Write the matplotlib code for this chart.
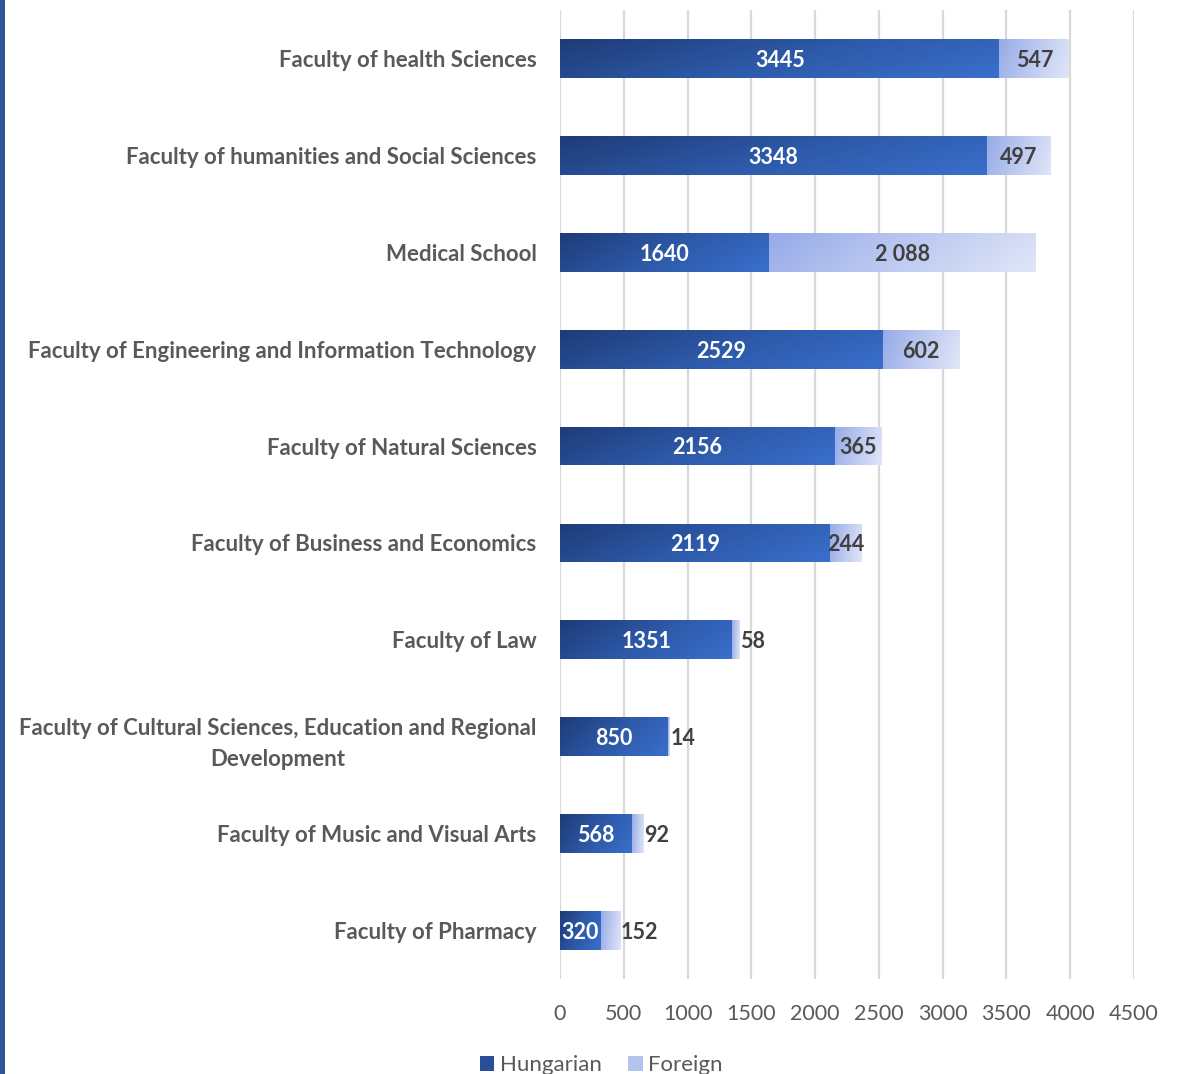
import numpy as np
import matplotlib
matplotlib.use('Agg')
import matplotlib.pyplot as plt
from matplotlib.patches import Rectangle, Patch
from matplotlib.colors import LinearSegmentedColormap

plt.rcParams['font.family'] = ['Lato', 'DejaVu Sans']

# 数据
faculties = [
    'Faculty of health Sciences',
    'Faculty of humanities and Social Sciences',
    'Medical School',
    'Faculty of Engineering and Information Technology',
    'Faculty of Natural Sciences',
    'Faculty of Business and Economics',
    'Faculty of Law',
    'Faculty of Cultural Sciences, Education and Regional\nDevelopment',
    'Faculty of Music and Visual Arts',
    'Faculty of Pharmacy',
]
hungarian = [3445, 3348, 1640, 2529, 2156, 2119, 1351, 850, 568, 320]
foreign = [547, 497, 2088, 602, 365, 244, 58, 14, 92, 152]
foreign_labels = ['547', '497', '2 088', '602', '365', '244', '58', '14', '92', '152']
xticks = [0, 500, 1000, 1500, 2000, 2500, 3000, 3500, 4000, 4500]

# 渐变色
cmap_hu = LinearSegmentedColormap.from_list('hu', ['#1F3C78', '#2D59A8', '#3A6FCC'])
cmap_fo = LinearSegmentedColormap.from_list('fo', ['#97ABE8', '#BCC9F0', '#E0E6F8'])

fig = plt.figure(figsize=(11.84, 10.74), dpi=100)
ax = fig.add_axes([0.473, 0.0885, 0.4848, 0.9022])

n = len(faculties)
ypos = np.arange(n)
bar_h = 0.4

# 对角渐变
gx, gy = np.meshgrid(np.linspace(0, 1, 64), np.linspace(0, 1, 16))


def grad_bar(left, width, y, cmap, grad):
    rect = Rectangle((left, y - bar_h / 2), width, bar_h, facecolor='none', edgecolor='none')
    ax.add_patch(rect)
    im = ax.imshow(grad, cmap=cmap, aspect='auto', interpolation='bilinear',
                   extent=(left, left + width, y + bar_h / 2, y - bar_h / 2),
                   vmin=0, vmax=1, zorder=2)
    im.set_clip_path(rect)


for i in range(n):
    grad_bar(0, hungarian[i], ypos[i], cmap_hu, 0.75 * gx + 0.25 * gy)
    grad_bar(hungarian[i], foreign[i], ypos[i], cmap_fo, 0.85 * gx + 0.15 * gy)
    ax.text(hungarian[i] / 2, ypos[i] + 0.02, str(hungarian[i]), ha='center', va='center',
            color='white', fontsize=15.5, fontweight='bold', zorder=3)
    if foreign[i] < 200:
        ax.text(hungarian[i] + foreign[i], ypos[i] + 0.02, foreign_labels[i], ha='left',
                va='center', color='#404040', fontsize=15.5, fontweight='bold', zorder=3)
    else:
        ax.text(hungarian[i] + foreign[i] / 2, ypos[i] + 0.02, foreign_labels[i], ha='center',
                va='center', color='#404040', fontsize=15.5, fontweight='bold', zorder=3)

ax.set_xlim(0, 4500)
ax.set_ylim(n - 0.5, -0.5)
ax.set_xticks(xticks)
ax.set_xticklabels([str(t) for t in xticks], fontsize=15.5, color='#595959')
ax.set_yticks(ypos)
ax.set_yticklabels(faculties, fontsize=16, fontweight='bold', color='#595959',
                   multialignment='center', linespacing=1.6)
ax.tick_params(axis='both', length=0)
ax.tick_params(axis='x', pad=18)
ax.tick_params(axis='y', pad=17)
for s in ax.spines.values():
    s.set_visible(False)
ax.grid(axis='x', color='#D9D9D9', linewidth=1.6)
ax.set_axisbelow(True)

# 图例
handles = [Patch(facecolor='#2A4E98', label='Hungarian'),
           Patch(facecolor='#B4C3EE', label='Foreign')]
fig.legend(handles=handles, loc='lower center', bbox_to_anchor=(0.508, -0.02), ncol=2,
           frameon=False, fontsize=16, labelcolor='#595959', handlelength=0.65,
           handleheight=0.65, handletextpad=0.25, columnspacing=1.2)

# 左侧蓝色边线
fig.add_artist(Rectangle((0, 0), 5 / 1184, 1, transform=fig.transFigure,
                         facecolor='#2F5597', edgecolor='none'))

fig.savefig('out.png', dpi=100)
